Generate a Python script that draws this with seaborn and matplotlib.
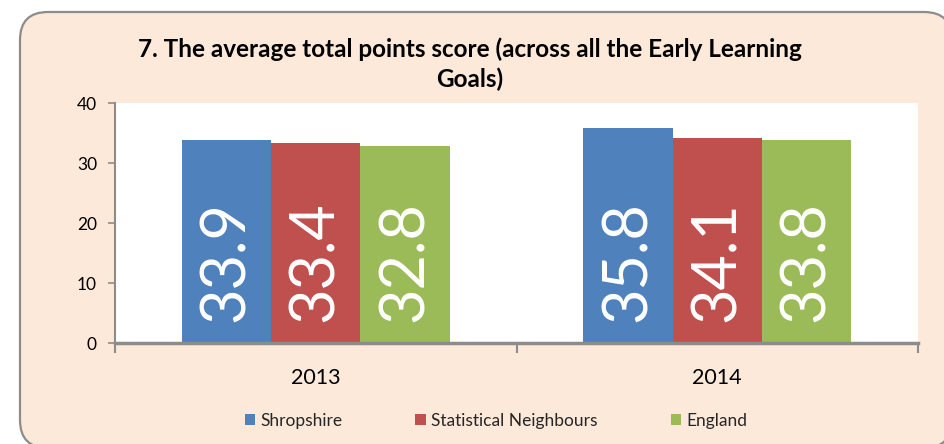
import matplotlib
matplotlib.use("Agg")
import matplotlib.pyplot as plt
from matplotlib.patches import FancyBboxPatch, Patch
from matplotlib.transforms import IdentityTransform
from matplotlib.ticker import FixedLocator
import seaborn as sns
import pandas as pd

# Data
years = ["2013", "2014"]
series = ["Shropshire", "Statistical Neighbours", "England"]
shropshire = [33.9, 35.8]
stat_neighbours = [33.4, 34.1]
england = [32.8, 33.8]
colors = ["#4F81BD", "#C0504D", "#9BBB59"]
title = "7. The average total points score (across all the Early Learning\nGoals)"

df = pd.DataFrame({
    "Year": years * 3,
    "Group": [s for s in series for _ in years],
    "Score": shropshire + stat_neighbours + england,
})

sns.set_style("white")
plt.rcParams["font.family"] = ["Lato", "DejaVu Sans"]

DPI = 100
fig = plt.figure(figsize=(9.45, 4.44), dpi=DPI, facecolor="white")

# Rounded peach chart frame (pixel coordinates), kept behind the axes
frame = FancyBboxPatch((20, -4), 932, 436,
                       boxstyle="round,pad=0,rounding_size=28",
                       transform=IdentityTransform(),
                       facecolor="#FDE9D9", edgecolor="#8C8C8C",
                       linewidth=1.6, zorder=-10)
fig.patches.append(frame)

ax = fig.add_axes([115 / 945, 1 - 343 / 444, 803 / 945, 240 / 444])
ax.set_zorder(1)
ax.set_facecolor("white")

sns.barplot(data=df, x="Year", y="Score", hue="Group", hue_order=series,
            order=years, palette=colors, width=0.667, saturation=1,
            errorbar=None, legend=False, ax=ax, zorder=2, linewidth=0)

ax.set_xlim(-0.5, 1.5)
ax.set_ylim(0, 40)
ax.set_yticks([0, 10, 20, 30, 40])
ax.set_xlabel("")
ax.set_ylabel("")

for side in ["top", "right"]:
    ax.spines[side].set_visible(False)
ax.spines["left"].set_color("#8C8C8C")
ax.spines["left"].set_linewidth(1.5)
ax.spines["bottom"].set_color("#8C8C8C")
ax.spines["bottom"].set_linewidth(2.5)

ax.tick_params(axis="y", direction="out", length=5, width=1.2, color="#8C8C8C",
               labelsize=12.5, labelcolor="black", pad=8, left=True)
ax.tick_params(axis="x", which="major", length=0, labelsize=15.5,
               labelcolor="black", pad=18)
ax.xaxis.set_minor_locator(FixedLocator([-0.5, 0.5, 1.5]))
ax.tick_params(axis="x", which="minor", direction="out", length=7, width=1.5,
               color="#8C8C8C", bottom=True)

# Value labels written upward from the base of each bar
for container in ax.containers:
    for bar in container:
        h = bar.get_height()
        ax.annotate(f"{h:.1f}", (bar.get_x() + bar.get_width() / 2, 0),
                    xytext=(0, 15), textcoords="offset points",
                    rotation=90, ha="center", va="bottom",
                    fontsize=44, color="white", zorder=3)

fig.text(470 / 945, 1 - 64 / 444, title, ha="center", va="center",
         fontsize=17.5, fontweight="bold", linespacing=1.35, color="black")

handles = [Patch(facecolor=c, edgecolor="none") for c in colors]
fig.legend(handles, series, loc="center", bbox_to_anchor=(496 / 945, 1 - 421 / 444),
           ncol=3, frameon=False, fontsize=12.5, handlelength=0.6,
           handleheight=0.6, handletextpad=0.3, columnspacing=4.2)

fig.savefig("out.png", dpi=DPI, facecolor="white")
